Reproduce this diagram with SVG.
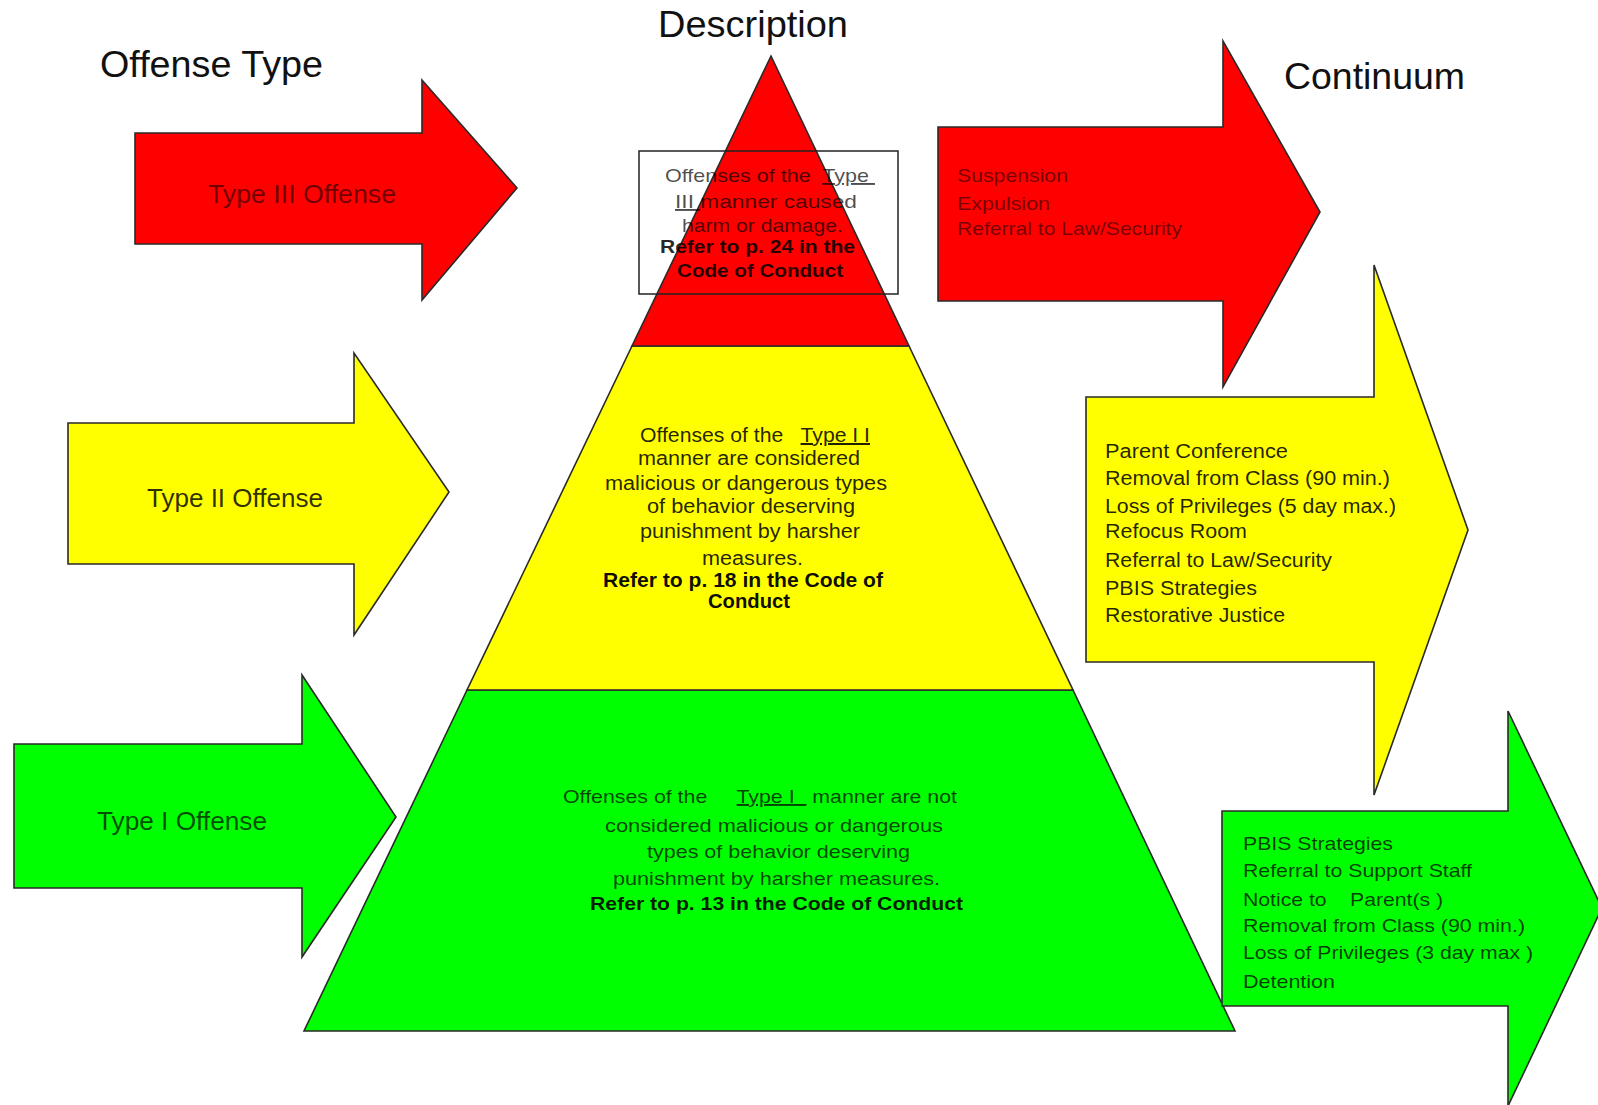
<svg xmlns="http://www.w3.org/2000/svg" width="1598" height="1105" viewBox="0 0 1598 1105">
<style>
text{font-family:"Liberation Sans",Arial,sans-serif;white-space:pre}
.sh{stroke:#2a2a2a;stroke-width:1.6;stroke-linejoin:miter}
.r{fill:#ff0000}.y{fill:#ffff00}.g{fill:#00ff00}
.title{font-size:36px;fill:#111}
.lab{font-size:25px}
.d{font-size:19px}
.d20{font-size:20px}
.b{font-weight:bold}
.u{text-decoration:underline}
</style>
<rect width="1598" height="1105" fill="#fff"/>

<g id="titles">
<text class="title" x="100" y="77" textLength="223" lengthAdjust="spacingAndGlyphs">Offense Type</text>
<text class="title" x="658" y="37" textLength="190" lengthAdjust="spacingAndGlyphs">Description</text>
<text class="title" x="1284" y="89" textLength="181" lengthAdjust="spacingAndGlyphs">Continuum</text>
</g>

<g id="pyramid">
<polygon class="sh g" points="467,690 1073,690 1235,1031 304,1031"/>
<polygon class="sh y" points="632,346 909,346 1073,690 467,690"/>
<polygon class="sh r" points="771,56 909,346 632,346"/>
<rect x="639" y="151" width="259" height="143" fill="none" stroke="#222" stroke-width="1.5"/>
</g>

<g id="type3-offense">
<polygon class="sh r" points="135,133 422,133 422,80 517,188 422,300 422,244 135,244"/>
<text class="lab" x="208" y="203" textLength="188" lengthAdjust="spacingAndGlyphs" fill="#000" fill-opacity="0.56">Type III Offense</text>
</g>
<g id="type2-offense">
<polygon class="sh y" points="68,423 354,423 354,353 449,492 354,635 354,564 68,564"/>
<text class="lab" x="147" y="507" textLength="176" lengthAdjust="spacingAndGlyphs" fill="#000" fill-opacity="0.82">Type II Offense</text>
</g>
<g id="type1-offense">
<polygon class="sh g" points="14,744 302,744 302,675 396,817 302,957 302,888 14,888"/>
<text class="lab" x="97" y="830" textLength="170" lengthAdjust="spacingAndGlyphs" fill="#000" fill-opacity="0.7">Type I Offense</text>
</g>

<g id="desc-type3" fill="#000">
<text class="d" x="665" y="182" textLength="210" lengthAdjust="spacingAndGlyphs" fill-opacity="0.7">Offenses of the  <tspan class="u">Type </tspan></text>
<text class="d" x="675" y="208" textLength="182" lengthAdjust="spacingAndGlyphs" fill-opacity="0.7"><tspan class="u">III </tspan>manner caused</text>
<text class="d" x="682" y="232" textLength="161" lengthAdjust="spacingAndGlyphs" fill-opacity="0.7">harm or damage.</text>
<text class="d b" x="660" y="253" textLength="195" lengthAdjust="spacingAndGlyphs" fill-opacity="0.85">Refer to p. 24 in the</text>
<text class="d b" x="677" y="277" textLength="166" lengthAdjust="spacingAndGlyphs" fill-opacity="0.85">Code of Conduct</text>
</g>

<g id="desc-type2" fill="#000">
<text class="d20" x="640" y="442" textLength="230" lengthAdjust="spacingAndGlyphs" fill-opacity="0.87">Offenses of the   <tspan class="u">Type I I</tspan></text>
<text class="d20" x="638" y="465" textLength="222" lengthAdjust="spacingAndGlyphs" fill-opacity="0.87">manner are considered</text>
<text class="d20" x="605" y="490" textLength="282" lengthAdjust="spacingAndGlyphs" fill-opacity="0.87">malicious or dangerous types</text>
<text class="d20" x="647" y="513" textLength="208" lengthAdjust="spacingAndGlyphs" fill-opacity="0.87">of behavior deserving</text>
<text class="d20" x="640" y="538" textLength="220" lengthAdjust="spacingAndGlyphs" fill-opacity="0.87">punishment by harsher</text>
<text class="d20" x="702" y="565" textLength="101" lengthAdjust="spacingAndGlyphs" fill-opacity="0.87">measures.</text>
<text class="d20 b" x="603" y="587" textLength="280" lengthAdjust="spacingAndGlyphs" fill-opacity="0.95">Refer to p. 18 in the Code of</text>
<text class="d20 b" x="708" y="608" textLength="82" lengthAdjust="spacingAndGlyphs" fill-opacity="0.95">Conduct</text>
</g>

<g id="desc-type1" fill="#000">
<text class="d" x="563" y="803" textLength="394" lengthAdjust="spacingAndGlyphs" fill-opacity="0.74">Offenses of the     <tspan class="u">Type I  </tspan> manner are not</text>
<text class="d" x="605" y="832" textLength="338" lengthAdjust="spacingAndGlyphs" fill-opacity="0.74">considered malicious or dangerous</text>
<text class="d" x="647" y="858" textLength="263" lengthAdjust="spacingAndGlyphs" fill-opacity="0.74">types of behavior deserving</text>
<text class="d" x="613" y="885" textLength="327" lengthAdjust="spacingAndGlyphs" fill-opacity="0.74">punishment by harsher measures.</text>
<text class="d b" x="590" y="910" textLength="373" lengthAdjust="spacingAndGlyphs" fill-opacity="0.9">Refer to p. 13 in the Code of Conduct</text>
</g>

<g id="continuum-type3">
<polygon class="sh r" points="938,127 1223,127 1223,41 1320,212 1223,387 1223,301 938,301"/>
<g fill="#000" fill-opacity="0.55">
<text class="d" x="957" y="182" textLength="111" lengthAdjust="spacingAndGlyphs">Suspension</text>
<text class="d" x="957" y="210" textLength="93" lengthAdjust="spacingAndGlyphs">Expulsion</text>
<text class="d" x="957" y="235" textLength="225" lengthAdjust="spacingAndGlyphs">Referral to Law/Security</text>
</g>
</g>

<g id="continuum-type2">
<polygon class="sh y" points="1086,397 1374,397 1374,265 1468,530 1374,795 1374,662 1086,662"/>
<g fill="#000" fill-opacity="0.87">
<text class="d20" x="1105" y="458" textLength="183" lengthAdjust="spacingAndGlyphs">Parent Conference</text>
<text class="d20" x="1105" y="485" textLength="285" lengthAdjust="spacingAndGlyphs">Removal from Class (90 min.)</text>
<text class="d20" x="1105" y="513" textLength="291" lengthAdjust="spacingAndGlyphs">Loss of Privileges (5 day max.)</text>
<text class="d20" x="1105" y="538" textLength="142" lengthAdjust="spacingAndGlyphs">Refocus Room</text>
<text class="d20" x="1105" y="567" textLength="227" lengthAdjust="spacingAndGlyphs">Referral to Law/Security</text>
<text class="d20" x="1105" y="595" textLength="152" lengthAdjust="spacingAndGlyphs">PBIS Strategies</text>
<text class="d20" x="1105" y="622" textLength="180" lengthAdjust="spacingAndGlyphs">Restorative Justice</text>
</g>
</g>

<g id="continuum-type1">
<polygon class="sh g" points="1222,811 1508,811 1508,711 1602,908 1508,1106 1508,1006 1222,1006"/>
<g fill="#000" fill-opacity="0.76">
<text class="d" x="1243" y="850" textLength="150" lengthAdjust="spacingAndGlyphs">PBIS Strategies</text>
<text class="d" x="1243" y="877" textLength="229" lengthAdjust="spacingAndGlyphs">Referral to Support Staff</text>
<text class="d" x="1243" y="906" textLength="200" lengthAdjust="spacingAndGlyphs">Notice to    Parent(s )</text>
<text class="d" x="1243" y="932" textLength="282" lengthAdjust="spacingAndGlyphs">Removal from Class (90 min.)</text>
<text class="d" x="1243" y="959" textLength="290" lengthAdjust="spacingAndGlyphs">Loss of Privileges (3 day max )</text>
<text class="d" x="1243" y="988" textLength="92" lengthAdjust="spacingAndGlyphs">Detention</text>
</g>
</g>

<g id="connectors"/>
</svg>
